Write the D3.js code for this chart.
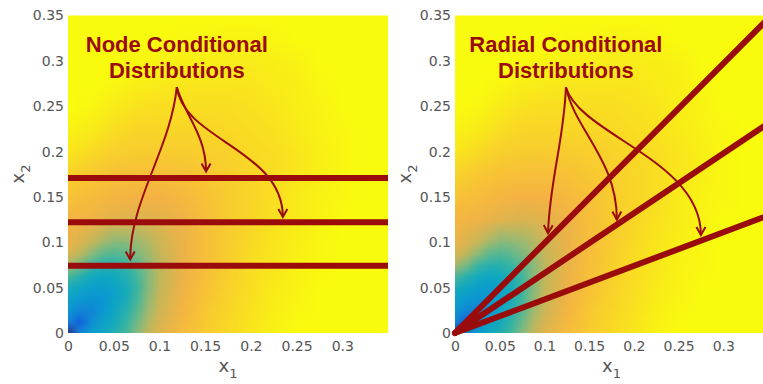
<!DOCTYPE html>
<html>
<head>
<meta charset="utf-8">
<script src="https://cdn.jsdelivr.net/npm/d3@7"></script>
<style>
  body { margin: 0; background: #fff; }
  svg { display: block; }
</style>
</head>
<body>
<svg id="chart" width="763" height="384"></svg>
<script>
// colour value of the background field (0 = dark blue, 1 = yellow)
// coarse grid: every 0.025 in x1 (columns) and x2 (rows, from x2 = 0 up)
const coarseStep = 0.025;
const coarseField = [
  [0.00, 0.33, 0.44, 0.60, 0.76, 0.83, 0.88, 0.92, 0.95, 0.98, 1.00, 1.00, 1.00, 1.00, 1.00],
  [0.30, 0.22, 0.38, 0.54, 0.72, 0.81, 0.87, 0.91, 0.94, 0.97, 0.99, 1.00, 1.00, 1.00, 1.00],
  [0.42, 0.34, 0.36, 0.50, 0.70, 0.79, 0.85, 0.90, 0.93, 0.96, 0.98, 1.00, 1.00, 1.00, 1.00],
  [0.65, 0.50, 0.46, 0.54, 0.69, 0.78, 0.84, 0.89, 0.93, 0.95, 0.98, 0.99, 1.00, 1.00, 1.00],
  [0.78, 0.70, 0.60, 0.63, 0.72, 0.78, 0.84, 0.88, 0.92, 0.95, 0.97, 0.99, 1.00, 1.00, 1.00],
  [0.81, 0.79, 0.76, 0.74, 0.76, 0.79, 0.84, 0.88, 0.91, 0.94, 0.96, 0.98, 1.00, 1.00, 1.00],
  [0.85, 0.83, 0.81, 0.80, 0.80, 0.82, 0.85, 0.88, 0.91, 0.93, 0.96, 0.98, 0.99, 1.00, 1.00],
  [0.90, 0.87, 0.85, 0.84, 0.84, 0.85, 0.87, 0.89, 0.91, 0.93, 0.95, 0.97, 0.99, 1.00, 1.00],
  [0.95, 0.92, 0.89, 0.88, 0.88, 0.88, 0.89, 0.90, 0.92, 0.93, 0.95, 0.97, 0.99, 1.00, 1.00],
  [0.98, 0.96, 0.93, 0.91, 0.91, 0.91, 0.91, 0.92, 0.93, 0.94, 0.96, 0.98, 0.99, 1.00, 1.00],
  [1.00, 0.99, 0.96, 0.94, 0.93, 0.93, 0.93, 0.93, 0.94, 0.95, 0.97, 0.98, 1.00, 1.00, 1.00],
  [1.00, 1.00, 0.99, 0.97, 0.96, 0.95, 0.95, 0.95, 0.95, 0.96, 0.97, 0.99, 1.00, 1.00, 1.00],
  [1.00, 1.00, 1.00, 0.99, 0.98, 0.97, 0.97, 0.96, 0.96, 0.97, 0.98, 1.00, 1.00, 1.00, 1.00],
  [1.00, 1.00, 1.00, 1.00, 1.00, 0.99, 0.99, 0.98, 0.98, 0.99, 1.00, 1.00, 1.00, 1.00, 1.00],
  [1.00, 1.00, 1.00, 1.00, 1.00, 1.00, 1.00, 1.00, 1.00, 1.00, 1.00, 1.00, 1.00, 1.00, 1.00]
];
// fine grid near the origin: every 0.0125 over [0, 0.1] x [0, 0.1]
const fineStep = 0.0125;
const fineField = [
  [0.00, 0.22, 0.33, 0.39, 0.44, 0.51, 0.60, 0.70, 0.76],
  [0.20, 0.12, 0.25, 0.35, 0.41, 0.48, 0.57, 0.67, 0.74],
  [0.30, 0.22, 0.22, 0.30, 0.38, 0.45, 0.54, 0.64, 0.72],
  [0.36, 0.31, 0.28, 0.29, 0.35, 0.42, 0.51, 0.62, 0.71],
  [0.42, 0.38, 0.34, 0.33, 0.36, 0.42, 0.50, 0.60, 0.70],
  [0.52, 0.46, 0.41, 0.39, 0.40, 0.44, 0.51, 0.60, 0.69],
  [0.65, 0.58, 0.50, 0.46, 0.46, 0.49, 0.54, 0.61, 0.69],
  [0.74, 0.69, 0.61, 0.55, 0.53, 0.55, 0.59, 0.64, 0.70],
  [0.78, 0.75, 0.70, 0.64, 0.60, 0.60, 0.63, 0.67, 0.72]
];

const nodeLevels = [0.171, 0.122, 0.074];   // x2 of the horizontal lines
const radialSlopes = [0.99, 0.66, 0.37];    // x2 / x1 of the radial lines

const xTicks = [0, 0.05, 0.1, 0.15, 0.2, 0.25, 0.3];
const yTicks = [0, 0.05, 0.1, 0.15, 0.2, 0.25, 0.3, 0.35];
const xTickLabels = ["0", "0.05", "0.1", "0.15", "0.2", "0.25", "0.3"];
const yTickLabels = ["0", "0.05", "0.1", "0.15", "0.2", "0.25", "0.3", "0.35"];

const titles = [["Node Conditional", "Distributions"], ["Radial Conditional", "Distributions"]];
const titleX = [0.119, 0.124];

// arrows as cubic curves: start, control 1, control 2, tip (data units)
const nodeArrows = [
  [[0.119, 0.271], [0.112, 0.202], [0.068, 0.147], [0.068, 0.081]],
  [[0.119, 0.271], [0.128, 0.240], [0.151, 0.218], [0.151, 0.178]],
  [[0.119, 0.271], [0.126, 0.213], [0.235, 0.202], [0.235, 0.128]]
];
const radialArrows = [
  [[0.124, 0.271], [0.122, 0.213], [0.106, 0.169], [0.104, 0.110]],
  [[0.124, 0.271], [0.134, 0.224], [0.181, 0.191], [0.181, 0.125]],
  [[0.124, 0.271], [0.140, 0.218], [0.275, 0.191], [0.275, 0.108]]
];

// parula-like colour map
const cmapStops = [0, 0.1, 0.2, 0.3, 0.4, 0.5, 0.6, 0.7, 0.8, 0.9, 1];
const cmapColors = ["#352a87", "#0f5cdd", "#1480d6", "#0a98d2", "#10a9c0", "#3ab5a0",
                    "#86ba7c", "#c4b75a", "#f5b244", "#f9d22a", "#f9fb0e"];

const darkRed = "#9a0b0b";
const svg = d3.select("#chart");
const color = d3.scaleLinear().domain(cmapStops).range(cmapColors).interpolate(d3.interpolateRgb);

// one image pixel per grid sample; the browser smooths it when scaled up
function fieldImage(values) {
  const nRows = values.length, nCols = values[0].length;
  const canvas = document.createElement("canvas");
  canvas.width = nCols; canvas.height = nRows;
  const ctx = canvas.getContext("2d");
  values.forEach((row, r) => row.forEach((v, c) => {
    ctx.fillStyle = color(v);
    ctx.fillRect(c, nRows - 1 - r, 1, 1);
  }));
  return { url: canvas.toDataURL(), nRows, nCols };
}
const layers = [
  { img: fieldImage(coarseField), step: coarseStep },
  { img: fieldImage(fineField), step: fineStep }
];

const defs = svg.append("defs");
defs.append("marker")
    .attr("id", "head")
    .attr("viewBox", "-10 -6 12 12")
    .attr("markerUnits", "userSpaceOnUse")
    .attr("markerWidth", 12).attr("markerHeight", 12)
    .attr("orient", "auto")
    .append("path")
    .attr("d", "M-8,-4.5L0,0L-8,4.5")
    .attr("fill", "none")
    .attr("stroke", darkRed)
    .attr("stroke-width", 2)
    .attr("stroke-linejoin", "miter");

const panels = [
  { left: 68, right: 388, kind: "node", arrows: nodeArrows },
  { left: 455, right: 768, kind: "radial", arrows: radialArrows }
];
const plotTop = 15.5, plotBottom = 333;

panels.forEach((p, i) => {
  const x = d3.scaleLinear().domain([0, 0.35]).range([p.left, p.right]);
  const y = d3.scaleLinear().domain([0, 0.35]).range([plotBottom, plotTop]);
  const g = svg.append("g");

  // field layers, each clipped to the span of its own samples and to the plot
  layers.forEach((L, j) => {
    const xMax = Math.min((L.img.nCols - 1) * L.step, 0.35);
    const yMax = Math.min((L.img.nRows - 1) * L.step, 0.35);
    const id = `clip${i}_${j}`;
    defs.append("clipPath").attr("id", id)
      .append("rect")
      .attr("x", x(0)).attr("y", y(yMax))
      .attr("width", x(xMax) - x(0)).attr("height", y(0) - y(yMax));
    const h = L.step / 2;
    const x0 = x(-h), x1 = x((L.img.nCols - 1) * L.step + h);
    const y0 = y((L.img.nRows - 1) * L.step + h), y1 = y(-h);
    g.append("image")
      .attr("href", L.img.url)
      .attr("x", x0).attr("y", y0)
      .attr("width", x1 - x0).attr("height", y1 - y0)
      .attr("preserveAspectRatio", "none")
      .attr("clip-path", `url(#${id})`);
  });

  if (p.kind === "node") {
    g.selectAll("line.level")
      .data(nodeLevels)
      .join("line")
      .attr("x1", x(0)).attr("x2", x(0.35))
      .attr("y1", d => y(d)).attr("y2", d => y(d))
      .attr("stroke", darkRed)
      .attr("stroke-width", 6);
  } else {
    defs.append("clipPath").attr("id", "clipR")
      .append("rect")
      .attr("x", p.left - 10).attr("y", plotTop)
      .attr("width", p.right - p.left + 10).attr("height", plotBottom - plotTop + 10);
    g.selectAll("line.ray")
      .data(radialSlopes)
      .join("line")
      .attr("x1", x(0)).attr("y1", y(0))
      .attr("x2", d => x(0.4)).attr("y2", d => y(0.4 * d))
      .attr("stroke", darkRed)
      .attr("stroke-width", 6)
      .attr("stroke-linecap", "round")
      .attr("clip-path", "url(#clipR)");
  }

  // arrows
  g.selectAll("path.arrow")
    .data(p.arrows)
    .join("path")
    .attr("d", d => {
      const pt = d.map(q => [x(q[0]), y(q[1])]);
      return `M${pt[0]}C${pt[1]} ${pt[2]} ${pt[3]}`;
    })
    .attr("fill", "none")
    .attr("stroke", darkRed)
    .attr("stroke-width", 2)
    .attr("marker-end", "url(#head)");

  // title
  const t = g.append("text")
    .attr("text-anchor", "middle")
    .attr("font-family", "Liberation Sans, Arial, sans-serif")
    .attr("font-weight", "bold")
    .attr("font-size", 22)
    .attr("fill", darkRed);
  titles[i].forEach((line, k) => {
    t.append("tspan").attr("x", x(titleX[i])).attr("y", 52 + k * 26).text(line);
  });

  // axes
  const xAxis = g.append("g")
    .attr("transform", `translate(0,${plotBottom})`)
    .call(d3.axisBottom(x).tickValues(xTicks).tickSize(0).tickPadding(8)
      .tickFormat((d, k) => xTickLabels[k]));
  const yAxis = g.append("g")
    .attr("transform", `translate(${p.left},0)`)
    .call(d3.axisLeft(y).tickValues(yTicks).tickSize(0).tickPadding(4)
      .tickFormat((d, k) => yTickLabels[k]));
  [xAxis, yAxis].forEach(a => {
    a.select(".domain").remove();
    a.selectAll("text")
      .attr("font-family", "DejaVu Sans, sans-serif")
      .attr("font-size", 14)
      .attr("fill", "#555");
  });

  const xl = g.append("text")
    .attr("x", (p.left + p.right) / 2).attr("y", 372)
    .attr("text-anchor", "middle")
    .attr("font-family", "DejaVu Sans, sans-serif")
    .attr("font-size", 18)
    .attr("fill", "#555")
    .text("x");
  xl.append("tspan").attr("font-size", 13).attr("dy", 6).text("1");

  const yl = g.append("text")
    .attr("transform", `translate(${p.left - 44},174) rotate(-90)`)
    .attr("text-anchor", "middle")
    .attr("font-family", "DejaVu Sans, sans-serif")
    .attr("font-size", 18)
    .attr("fill", "#555")
    .text("x");
  yl.append("tspan").attr("font-size", 13).attr("dy", 6).text("2");
});
</script>
</body>
</html>
